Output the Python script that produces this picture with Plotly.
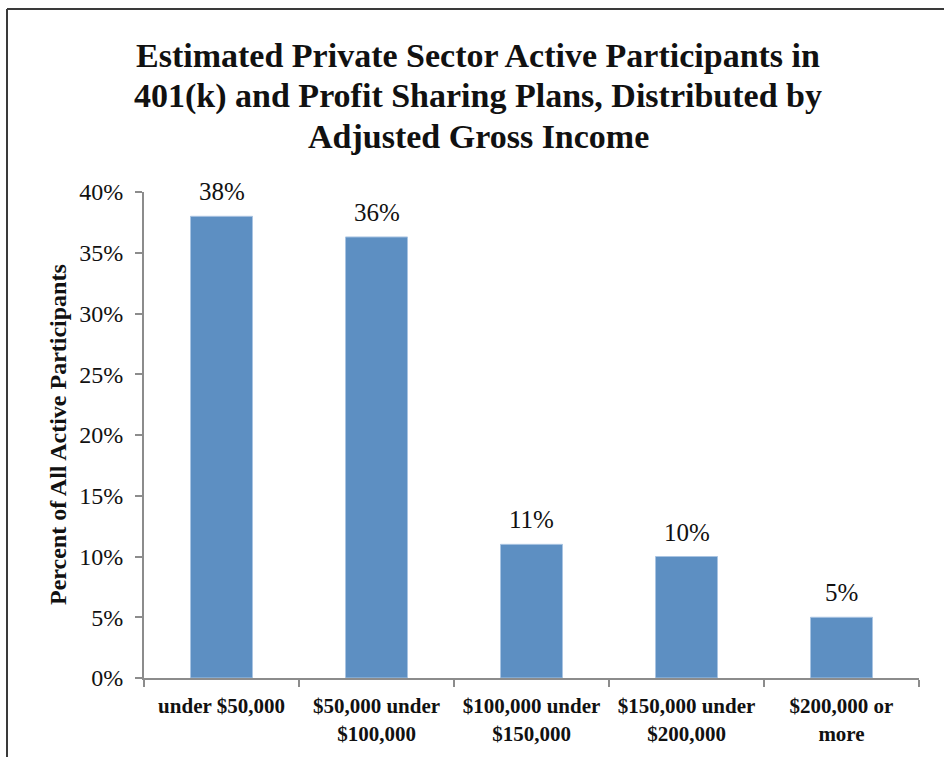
import plotly.graph_objects as go

# Income brackets and share of active participants (percent)
categories = ["under $50,000", "$50,000 under<br>$100,000", "$100,000 under<br>$150,000",
              "$150,000 under<br>$200,000", "$200,000 or<br>more"]
shares = [38.0, 36.3, 11.0, 10.0, 5.0]
y_ticks = [0, 5, 10, 15, 20, 25, 30, 35, 40]
y_tick_labels = [f"{t}%" for t in y_ticks]
title_lines = ["Estimated Private Sector Active Participants in",
               "401(k) and Profit Sharing Plans, Distributed by",
               "Adjusted Gross Income"]

W, H = 944, 757
L, R, T, B = 144, 25, 192, 79
plot_w, plot_h = W - L - R, H - T - B

def px_x(px):
    return (px - L) / plot_w

def px_y(py):
    return (H - B - py) / plot_h

SERIF = "Liberation Serif, Times New Roman, serif"
BAR = "#5d8fc2"
AXIS = "#8c8c8c"
INK = "#111"

fig = go.Figure(go.Bar(
    x=categories, y=shares,
    marker=dict(color=BAR, line=dict(color="#a9c4e2", width=1)),
    width=0.4,
    hoverinfo="skip",
))

# value labels above each bar
for c, v in zip(categories, shares):
    fig.add_annotation(x=c, y=v, text=f"{v:.0f}%", showarrow=False,
                       yanchor="bottom", yshift=9,
                       font=dict(family=SERIF, size=25, color=INK))

# three-line bold title, 40px between baselines
for i, line in enumerate(title_lines):
    fig.add_annotation(xref="paper", yref="paper", x=px_x(478), y=px_y(56 + 40 * i),
                       text=f"<b>{line}</b>", showarrow=False,
                       xanchor="center", yanchor="middle",
                       font=dict(family=SERIF, size=34, color=INK))

# y-axis title
fig.add_annotation(xref="paper", yref="paper", x=px_x(58), y=0.5,
                   text="<b>Percent of All Active Participants</b>", textangle=-90,
                   showarrow=False, xanchor="center", yanchor="middle",
                   font=dict(family=SERIF, size=24, color=INK))

# outer frame (left and top edges)
frame = dict(color="#3a3a3a", width=2)
fig.add_shape(type="line", xref="paper", yref="paper",
              x0=px_x(7), x1=px_x(7), y0=px_y(9), y1=px_y(H + 2), line=frame)
fig.add_shape(type="line", xref="paper", yref="paper",
              x0=px_x(7), x1=px_x(W + 2), y0=px_y(9), y1=px_y(9), line=frame)

fig.update_layout(
    width=W, height=H,
    margin=dict(l=L, r=R, t=T, b=B),
    paper_bgcolor="white", plot_bgcolor="white",
    showlegend=False,
    xaxis=dict(
        showgrid=False, showline=True, linecolor=AXIS, linewidth=2,
        ticks="outside", tickson="boundaries", ticklen=7, tickcolor=AXIS, tickwidth=2,
        tickfont=dict(family=SERIF, size=21, color=INK),
        tickprefix="<b>", ticksuffix="</b>", ticklabelstandoff=8,
        fixedrange=True,
    ),
    yaxis=dict(
        range=[0, 40], tickmode="array", tickvals=y_ticks, ticktext=y_tick_labels,
        showgrid=False, zeroline=False, showline=True, linecolor=AXIS, linewidth=2,
        ticks="outside", ticklen=7, tickcolor=AXIS, tickwidth=2,
        tickfont=dict(family=SERIF, size=24, color=INK), ticklabelstandoff=7,
        fixedrange=True,
    ),
)

fig.write_html("out.html")
